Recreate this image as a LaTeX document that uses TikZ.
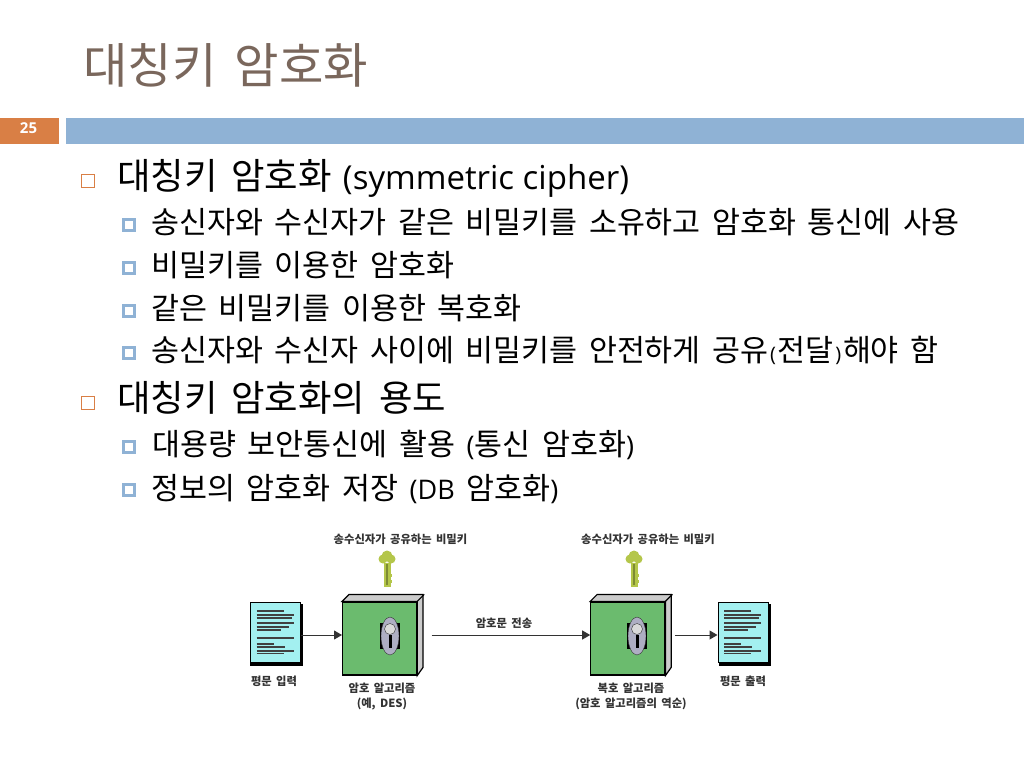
\documentclass[tikz,border=0pt]{standalone}
\usepackage{fontspec}
\setmainfont[WordSpace=1.7]{Noto Sans CJK KR}
\newfontfamily\latinfont{Open Sans}
\usetikzlibrary{arrows.meta,positioning,calc}
\definecolor{slideorange}{HTML}{D97F45}
\definecolor{slideblue}{HTML}{8FB2D5}
\definecolor{titlebrown}{HTML}{7A675C}
\definecolor{boxgreen}{HTML}{6BBB6E}
\definecolor{papercyan}{HTML}{A3F0F0}
\definecolor{keygreen}{HTML}{B4C64A}
\newcommand{\lat}[1]{{\latinfont\fontsize{27}{32}\selectfont #1}}
\newcommand{\tinylat}[1]{{\latinfont\fontsize{20}{24}\selectfont\kern1.7pt #1\kern1.7pt}}
\tikzset{
	headbullet/.style={
		rectangle,
		draw=slideorange,
		line width=1.1pt,
		fill=white,
		inner sep=0pt,
		minimum size=12.5pt,
	},
	subbullet/.style={
		rectangle,
		draw=slideblue,
		line width=3pt,
		fill=white,
		inner sep=0pt,
		minimum size=10.5pt,
	},
	headitem/.style={
		anchor=west,
		font=\fontsize{36.4}{42}\selectfont,
		inner sep=0pt,
	},
	subitem/.style={
		anchor=west,
		font=\fontsize{30.4}{36}\selectfont,
		inner sep=0pt,
	},
	docbox/.style={
		rectangle,
		draw=black,
		line width=1pt,
		fill=papercyan,
		inner sep=0pt,
		minimum width=50pt,
		minimum height=60pt,
	},
	cipherbox/.style={
		rectangle,
		draw=black,
		line width=1.2pt,
		fill=boxgreen,
		inner sep=0pt,
		minimum width=74pt,
		minimum height=73pt,
	},
	smalllabel/.style={
		font=\bfseries\fontsize{11.3}{15}\selectfont,
		align=center,
		inner sep=0pt,
		text=black!80,
	},
	flowline/.style={
		->,
		black!80,
		line width=1pt,
	},
	keyicon/.pic={
		\fill[keygreen] (-3.5,-6) rectangle (3.5,18);
		\fill[keygreen] (3,5) rectangle (5,8);
		\fill[keygreen] (3,11) rectangle (5,14);
		\fill[keygreen] (-4,-10) circle (4.5);
		\fill[keygreen] (4,-10) circle (4.5);
		\fill[keygreen] (0,-13) circle (5.5);
		\fill[keygreen!70!black] (-.8,-5) rectangle (.8,16);
	},
	lockicon/.pic={
		\fill[black] (-10,-13) rectangle (10,13);
		\fill[blue!15!gray!55!white] (0,0) ellipse (9 and 19);
		\draw[black!80] (0,0) ellipse (9 and 19);
		\fill[black!15] (0,-7) circle (5.5);
		\draw[black!80] (0,-7) circle (5.5);
		\fill[black] (-1.5,-1) rectangle (1.5,12);
	},
	paperlines/.pic={
		\foreach \y/\w in {-22/27,-18/37,-15/35,-10/37,-6/32,-3/24,5/37,11/17,14/28,18/37,20.5/27}
			\draw[black!75,line width=1.6pt] (-19,\y) -- ++(\w,0);
	},
}
\begin{document}
\begin{tikzpicture}[x=1pt,y=-1pt,>={Triangle[length=8pt,width=9pt]}]
	\useasboundingbox (0,0) rectangle (1024,768);
	
	\node [anchor=west,inner sep=0pt,text=titlebrown,font=\fontsize{48.3}{56}\selectfont] (title) at (83,65) {대칭키 암호화};
	
	\fill[slideorange] (0,118) rectangle (59,143.5);
	\fill[slideblue] (66,118) rectangle (1024,143.5);
	\node [text=white,font=\latinfont\bfseries\fontsize{15}{18}\selectfont,inner sep=0pt] (page) at (28.5,128) {25};
	
	% text list
	\node [headbullet] (h1) at (88,181) {};
	\node [headitem] (t1) at (117,178.5) {대칭키 암호화\kern11pt{\latinfont\fontsize{33}{40}\selectfont(symmetric cipher)}};
	\node [subbullet] (s1) at (129,225) {};
	\node [subitem] (u1) at (151,222) {송신자와 수신자가 같은 비밀키를 소유하고 암호화 통신에 사용};
	\node [subbullet] (s2) at (129,268) {};
	\node [subitem] (u2) at (151,265) {비밀키를 이용한 암호화};
	\node [subbullet] (s3) at (129,311) {};
	\node [subitem] (u3) at (151,308) {같은 비밀키를 이용한 복호화};
	\node [subbullet] (s4) at (129,353) {};
	\node [subitem] (u4) at (151,350) {송신자와 수신자 사이에 비밀키를 안전하게 공유\tinylat{(}전달\tinylat{)}해야 함};
	\node [headbullet] (h2) at (88,403) {};
	\node [headitem] (t2) at (117,398) {대칭키 암호화의 용도};
	\node [subbullet] (s5) at (129,447) {};
	\node [subitem] (u5) at (152,445) {대용량 보안통신에 활용 \lat{(}통신 암호화\lat{)}};
	\node [subbullet] (s6) at (129,490) {};
	\node [subitem] (u6) at (151,489) {정보의 암호화 저장 \lat{(DB} 암호화\lat{)}};
	
	% encrypt and decrypt figure
	\coordinate (flow) at (0,635);
	\fill[black] (250,604) rectangle (303,666);
	\node [docbox] (plainin) at (275.5,632.5) {};
	\pic at (275.5,633) {paperlines};
	\node [cipherbox] (encbox) [right=41pt of plainin,yshift=-6pt] {};
	\filldraw[fill=black!20,draw=black,line width=1.2pt] (encbox.north west) -- ++(7,-7) -- ++(74,0) -- ++(0,73) -- (encbox.south east) -- (encbox.north east) -- cycle;
	\draw[black,line width=1.2pt] (encbox.north east) -- ++(7,-7);
	\pic at (390,636) {lockicon};
	\pic at (387,569) {keyicon};
	\node [cipherbox] (decbox) [right=173pt of encbox] {};
	\filldraw[fill=black!20,draw=black,line width=1.2pt] (decbox.north west) -- ++(7,-7) -- ++(74,0) -- ++(0,73) -- (decbox.south east) -- (decbox.north east) -- cycle;
	\draw[black,line width=1.2pt] (decbox.north east) -- ++(7,-7);
	\pic at (637,636) {lockicon};
	\pic at (634,569) {keyicon};
	\fill[black] (719,604) rectangle (771,666);
	\node [docbox] (plainout) at (743,632.5) {};
	\pic at (743,633) {paperlines};
	
	\node [smalllabel] (keytop1) at (400.5,539) {송수신자가 공유하는 비밀키};
	\node [smalllabel] (keytop2) at (648,539) {송수신자가 공유하는 비밀키};
	\node [smalllabel] (inlabel) at (274,681) {평문 입력};
	\node [smalllabel] (enclabel) at (382,696) {암호 알고리즘\\(예, DES)};
	\node [smalllabel] (sendlabel) at (504,623) {암호문 전송};
	\node [smalllabel] (declabel) at (631,696) {복호 알고리즘\\(암호 알고리즘의 역순)};
	\node [smalllabel] (outlabel) at (743,681) {평문 출력};
	
	\draw[flowline] (plainin.east |- flow) -- (encbox.west |- flow);
	\draw[flowline,shorten <=14.5pt] (encbox.east |- flow) -- (decbox.west |- flow);
	\draw[flowline,shorten <=9.5pt] (decbox.east |- flow) -- (plainout.west |- flow);
\end{tikzpicture}
\end{document}
